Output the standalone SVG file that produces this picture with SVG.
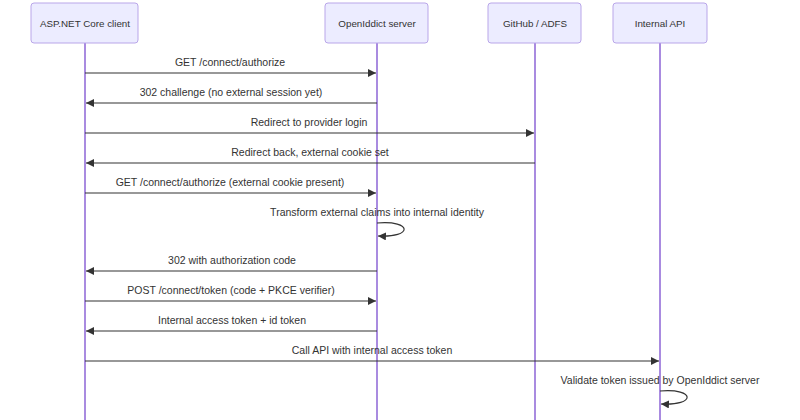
<svg xmlns="http://www.w3.org/2000/svg" width="800" height="420" viewBox="0 0 800 420">
<style>
.actor{fill:#ECECFF;stroke:#B9A6E9;stroke-width:1}
.atext{font-family:"Liberation Sans",Arial,sans-serif;font-size:9.8px;fill:#333;text-anchor:middle;dominant-baseline:central}
.life{stroke:#A98BE0;stroke-width:2}
.msg{stroke:#333;stroke-width:1.2;fill:none}
.mtext{font-family:"Liberation Sans",Arial,sans-serif;font-size:10.5px;fill:#333;text-anchor:middle}
</style>
<defs>
<marker id="arr" viewBox="0 0 10 10" refX="10" refY="5" markerWidth="8" markerHeight="8" markerUnits="userSpaceOnUse" orient="auto">
<path d="M0,0 L10,5 L0,10 z" fill="#333"/>
</marker>
</defs>
<rect width="800" height="420" fill="#fff"/>
<g id="lifelines">
<line class="life" x1="85" y1="43" x2="85" y2="420"/>
<line class="life" x1="377" y1="43" x2="377" y2="420"/>
<line class="life" x1="535" y1="43" x2="535" y2="420"/>
<line class="life" x1="660" y1="43" x2="660" y2="420"/>
</g>
<g id="client"><rect class="actor" x="31" y="3" width="107" height="40" rx="3"/><text class="atext" x="85" y="23">ASP.NET Core client</text></g>
<g id="server"><rect class="actor" x="325" y="3" width="103" height="40" rx="3"/><text class="atext" x="377" y="23">OpenIddict server</text></g>
<g id="provider"><rect class="actor" x="488" y="3" width="93" height="40" rx="3"/><text class="atext" x="535" y="23">GitHub / ADFS</text></g>
<g id="api"><rect class="actor" x="613" y="3" width="94" height="40" rx="3"/><text class="atext" x="660" y="23">Internal API</text></g>
<g id="connectors">
<text class="mtext" x="230" y="66">GET /connect/authorize</text>
<line class="msg" x1="85" y1="73" x2="376" y2="73" marker-end="url(#arr)"/>
<text class="mtext" x="231" y="96">302 challenge (no external session yet)</text>
<line class="msg" x1="377" y1="103" x2="86" y2="103" marker-end="url(#arr)"/>
<text class="mtext" x="309" y="126">Redirect to provider login</text>
<line class="msg" x1="85" y1="133" x2="534" y2="133" marker-end="url(#arr)"/>
<text class="mtext" x="310" y="156">Redirect back, external cookie set</text>
<line class="msg" x1="535" y1="163" x2="86" y2="163" marker-end="url(#arr)"/>
<text class="mtext" x="230" y="186">GET /connect/authorize (external cookie present)</text>
<line class="msg" x1="85" y1="193" x2="376" y2="193" marker-end="url(#arr)"/>
<text class="mtext" x="377" y="216">Transform external claims into internal identity</text>
<path class="msg" d="M377,223 C413,220 413,238 378,236" marker-end="url(#arr)"/>
<text class="mtext" x="232" y="264">302 with authorization code</text>
<line class="msg" x1="377" y1="271" x2="86" y2="271" marker-end="url(#arr)"/>
<text class="mtext" x="231" y="294">POST /connect/token (code + PKCE verifier)</text>
<line class="msg" x1="85" y1="301" x2="376" y2="301" marker-end="url(#arr)"/>
<text class="mtext" x="232" y="324">Internal access token + id token</text>
<line class="msg" x1="377" y1="331" x2="86" y2="331" marker-end="url(#arr)"/>
<text class="mtext" x="372" y="354">Call API with internal access token</text>
<line class="msg" x1="85" y1="361" x2="659" y2="361" marker-end="url(#arr)"/>
<text class="mtext" x="660" y="384">Validate token issued by OpenIddict server</text>
<path class="msg" d="M660,391 C696,388 696,406 661,404" marker-end="url(#arr)"/>
</g>
</svg>
